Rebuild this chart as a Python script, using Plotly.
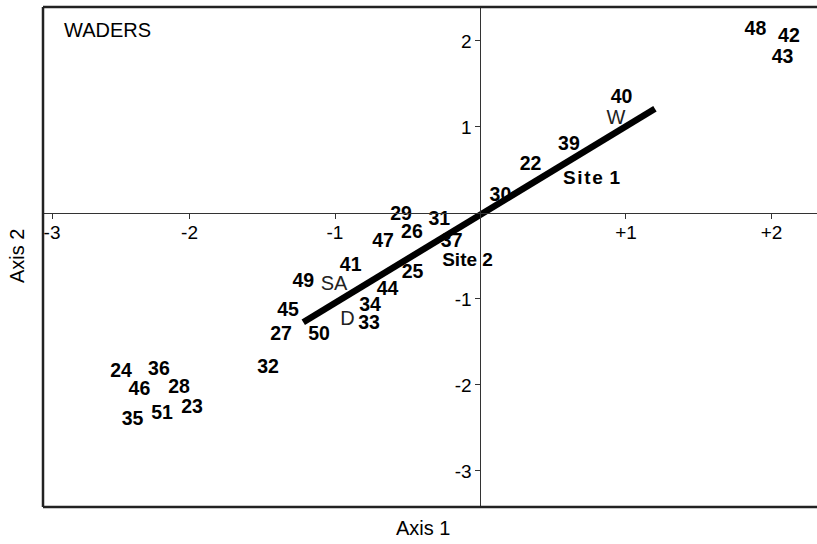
import plotly.graph_objects as go

# ---- data ----
sample_labels = ["48", "42", "43", "40", "39", "22", "30", "29", "31", "26", "47", "37",
                 "41", "25", "49", "44", "45", "34", "33", "27", "50", "32",
                 "24", "36", "46", "28", "23", "51", "35"]
sample_x = [1.890, 2.120, 2.076, 0.970, 0.608, 0.344, 0.137, -0.546, -0.283, -0.471, -0.670, -0.198,
            -0.892, -0.467, -1.218, -0.639, -1.323, -0.759, -0.766, -1.371, -1.110, -1.460,
            -2.471, -2.210, -2.344, -2.072, -1.983, -2.189, -2.392]
sample_y = [2.122, 2.041, 1.800, 1.332, 0.789, 0.553, 0.198, -0.025, -0.083, -0.235, -0.343, -0.343,
            -0.622, -0.703, -0.808, -0.901, -1.145, -1.087, -1.290, -1.424, -1.424, -1.808,
            -1.854, -1.828, -2.064, -2.037, -2.270, -2.343, -2.413]

site_labels = ["S\u200ai\u200at\u200ae\u200a 1", "Site 2"]
site_x = [0.764, -0.089]
site_y = [0.390, -0.558]

group_labels = ["W", "SA", "D"]
group_x = [0.931, -1.007, -0.914]
group_y = [1.093, -0.843, -1.242]

vector_x = [-1.218, 1.199]
vector_y = [-1.270, 1.212]

# the leftmost tick sits slightly inside the frame in the reference
x_tickvals = [-2.945, -2, -1, 1, 2]
x_ticktext = ["-3", "-2", "-1", "+1", "+2"]
y_tickvals = [2, 1, -1, -2, -3]
y_ticktext = ["2", "1", "-1", "-2", "-3"]

x_range = [-3.007, 2.313]
y_range = [-3.419, 2.395]

FONT = "Liberation Sans, Arial, sans-serif"

fig = go.Figure()

fig.add_trace(go.Scatter(
    x=vector_x, y=vector_y, mode="lines",
    line=dict(color="black", width=6.5), hoverinfo="skip", showlegend=False))

fig.add_trace(go.Scatter(
    x=sample_x, y=sample_y, mode="text", text=sample_labels,
    textposition="middle center",
    textfont=dict(family=FONT, size=19.5, color="black", weight="bold"),
    hoverinfo="skip", showlegend=False))

fig.add_trace(go.Scatter(
    x=site_x, y=site_y, mode="text", text=site_labels,
    textposition="middle center",
    textfont=dict(family=FONT, size=19, color="black", weight="bold"),
    hoverinfo="skip", showlegend=False))

fig.add_trace(go.Scatter(
    x=group_x, y=group_y, mode="text", text=group_labels,
    textposition="middle center",
    textfont=dict(family=FONT, size=20, color="#222"),
    hoverinfo="skip", showlegend=False))

x_pos = (0 - y_range[0]) / (y_range[1] - y_range[0])
y_pos = (0 - x_range[0]) / (x_range[1] - x_range[0])

axis_common = dict(showgrid=False, zeroline=False, showline=True, linecolor="#333",
                   linewidth=1.3, ticks="outside", ticklen=5, tickwidth=1.3,
                   tickcolor="#333", anchor="free",
                   tickfont=dict(family=FONT, size=19, color="black"))

fig.update_layout(
    width=817, height=544,
    margin=dict(l=43, r=0, t=7, b=37),
    paper_bgcolor="white", plot_bgcolor="white",
    font=dict(family=FONT, size=19, color="black"),
    hovermode=False,
    xaxis=dict(range=x_range, tickvals=x_tickvals, ticktext=x_ticktext,
               position=x_pos, ticklabelstandoff=-3, **axis_common),
    yaxis=dict(range=y_range, tickvals=y_tickvals, ticktext=y_ticktext,
               position=y_pos, **axis_common),
    shapes=[
        dict(type="line", xref="paper", yref="paper", x0=0, x1=0, y0=0, y1=1,
             line=dict(color="#222", width=2.5)),
        dict(type="line", xref="paper", yref="paper", x0=0, x1=1.01, y0=1, y1=1,
             line=dict(color="#222", width=2.5)),
        dict(type="line", xref="paper", yref="paper", x0=0, x1=1.01, y0=0, y1=0,
             line=dict(color="#222", width=2.5)),
    ],
    annotations=[
        dict(text="WADERS", xref="paper", yref="paper", x=(62 - 43) / 774, y=1 - (30 - 7) / 500,
             xanchor="left", yanchor="middle", showarrow=False,
             font=dict(family=FONT, size=20, color="black")),
        dict(text="Axis 1", xref="paper", yref="paper", x=(423 - 43) / 774, y=-(528 - 507) / 500,
             xanchor="center", yanchor="middle", showarrow=False,
             font=dict(family=FONT, size=20, color="black")),
        dict(text="Axis 2", xref="paper", yref="paper", x=-(43 - 17) / 774, y=(507 - 256) / 500,
             xanchor="center", yanchor="middle", showarrow=False, textangle=-90,
             font=dict(family=FONT, size=20, color="black")),
    ],
)

fig.write_html("out.html", config={"displayModeBar": False})
